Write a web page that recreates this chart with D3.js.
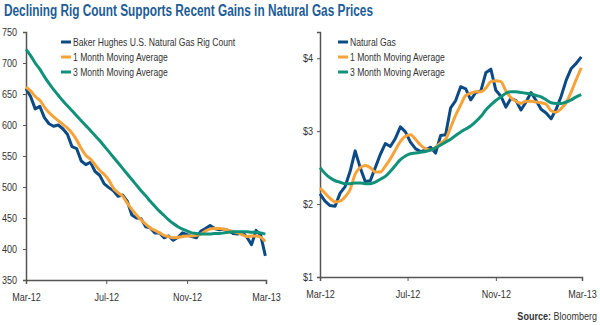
<!DOCTYPE html>
<html>
<head>
<meta charset="utf-8">
<script src="https://cdn.jsdelivr.net/npm/d3@7"></script>
<style>
  body { margin: 0; background: #fff; }
  svg text { font-family: "Liberation Sans", Arial, sans-serif; }
</style>
</head>
<body>
<div id="canvas"></div>
<script>
// weekly rig count, Mar-12 .. Mar-13
const rigCount = [659, 646, 626, 630, 612, 602, 598, 600, 594, 585, 565, 562, 542, 536, 540, 525,
  519, 505, 499, 494, 485, 487, 477, 455, 450, 449, 436, 434, 426, 426, 418, 421, 414, 419, 426,
  423, 420, 418, 429, 433, 438, 433, 431, 432, 430, 425, 424, 427, 419, 407, 430, 422, 389];
const rig1m = [661, 655, 646, 640, 629, 620, 613, 607, 601, 595, 587, 576, 562, 551, 545, 536,
  527, 520, 511, 498, 491, 485, 474, 464, 455, 447, 440, 434, 430, 426, 422, 420, 418, 419, 420,
  421, 421, 422, 424, 429, 432, 433, 433, 432, 430, 428, 426, 423, 420, 421, 421, 419, 412];
const rig3m = [722, 712, 700, 690, 678, 667, 657, 648, 639, 631, 623, 615, 607, 599, 591, 583,
  575, 566, 557, 548, 539, 530, 521, 512, 503, 494, 486, 477, 469, 461, 454, 447, 441, 436, 432,
  429, 426, 425, 424, 424, 424, 425, 425, 426, 427, 428, 428, 428, 428, 427, 427, 426, 424];

// weekly natural gas price ($)
const gasPrice = [2.14, 2.04, 1.98, 1.97, 2.15, 2.24, 2.45, 2.73, 2.50, 2.31, 2.32, 2.50, 2.68,
  2.83, 2.79, 2.90, 3.06, 2.99, 2.85, 2.76, 2.72, 2.74, 2.78, 2.70, 2.94, 2.95, 3.32, 3.42, 3.61,
  3.58, 3.43, 3.53, 3.55, 3.80, 3.85, 3.56, 3.48, 3.33, 3.45, 3.42, 3.29, 3.40, 3.53, 3.42, 3.30,
  3.25, 3.17, 3.30, 3.48, 3.70, 3.86, 3.93, 4.02];
const gas1m = [2.22, 2.15, 2.08, 2.03, 2.04, 2.10, 2.20, 2.41, 2.50, 2.53, 2.50, 2.44, 2.44,
  2.52, 2.62, 2.74, 2.86, 2.93, 2.95, 2.89, 2.81, 2.76, 2.74, 2.78, 2.84, 2.89, 3.05, 3.22, 3.36,
  3.49, 3.52, 3.54, 3.54, 3.59, 3.68, 3.69, 3.68, 3.55, 3.46, 3.41, 3.38, 3.41, 3.41, 3.40, 3.39,
  3.37, 3.28, 3.26, 3.31, 3.39, 3.54, 3.71, 3.87];
const gas3m = [2.50, 2.42, 2.36, 2.32, 2.30, 2.28, 2.28, 2.29, 2.29, 2.28, 2.28, 2.30, 2.34,
  2.38, 2.45, 2.53, 2.61, 2.66, 2.69, 2.70, 2.71, 2.72, 2.74, 2.77, 2.81, 2.85, 2.89, 2.94, 2.99,
  3.03, 3.07, 3.13, 3.20, 3.29, 3.36, 3.42, 3.47, 3.52, 3.54, 3.54, 3.53, 3.52, 3.51, 3.49, 3.47,
  3.43, 3.39, 3.38, 3.38, 3.40, 3.43, 3.47, 3.50];

const rigLegend = ["Baker Hughes U.S. Natural Gas Rig Count", "1 Month Moving Average", "3 Month Moving Average"];
const gasLegend = ["Natural Gas", "1 Month Moving Average", "3 Month Moving Average"];
const rigTicks = [350, 400, 450, 500, 550, 600, 650, 700, 750];
const gasTicks = [1, 2, 3, 4];
const monthTicks = [new Date(2012, 2, 1), new Date(2012, 6, 1), new Date(2012, 10, 1), new Date(2013, 2, 1)];

const colors = ["#0b4a84", "#f8a33a", "#12917a"];
const textColor = "#333";

const start = new Date(2012, 2, 1);
const dates = rigCount.map((d, i) => d3.timeDay.offset(start, 7 * i));
const xDomain = [start, new Date(2013, 2, 1)];

const width = 600;
const height = 325;

const svg = d3.select("#canvas").append("svg")
  .attr("width", width)
  .attr("height", height);

// narrow the regular sans to a condensed look
function squeeze(sel, k = 0.82) {
  sel.each(function () {
    const w = this.getComputedTextLength();
    d3.select(this).attr("textLength", w * k).attr("lengthAdjust", "spacingAndGlyphs");
  });
}

svg.append("text")
  .attr("x", 4)
  .attr("y", 16)
  .attr("fill", "#1d5c96")
  .attr("textLength", 369)
  .attr("lengthAdjust", "spacingAndGlyphs")
  .style("font-size", "16px")
  .style("font-weight", "bold")
  .text("Declining Rig Count Supports Recent Gains in Natural Gas Prices");

function panel(opts) {
  const x = d3.scaleTime().domain(xDomain).range([opts.left, opts.right]);
  const y = d3.scaleLinear().domain(opts.yDomain).range([opts.bottom, opts.top]);

  const g = svg.append("g");

  // axes
  const yAxis = g.append("g")
    .attr("transform", `translate(${opts.left},0)`)
    .call(d3.axisLeft(y).tickValues(opts.ticks).tickSize(3).tickPadding(opts.pad).tickFormat(opts.fmt));
  const xAxis = g.append("g")
    .attr("transform", `translate(0,${opts.bottom})`)
    .call(d3.axisBottom(x).tickValues(monthTicks).tickSize(4).tickPadding(9)
      .tickFormat(d3.timeFormat("%b-%y")));

  [yAxis, xAxis].forEach((a) => {
    a.select(".domain").attr("stroke", "#555").attr("stroke-width", 1.5);
    a.selectAll(".tick line").attr("stroke", "#555");
    a.selectAll("text").attr("fill", textColor).style("font-size", "11px").call(squeeze);
  });

  // series
  opts.series.forEach((s, i) => {
    const line = d3.line()
      .x((d, j) => x(dates[j]))
      .y((d) => y(d))
      .curve(i === 0 ? d3.curveLinear : d3.curveMonotoneX);
    g.append("path")
      .datum(s)
      .attr("fill", "none")
      .attr("stroke", colors[i])
      .attr("stroke-width", 3)
      .attr("stroke-linejoin", "round")
      .attr("d", line);
  });

  // legend
  const lg = g.append("g").attr("transform", `translate(${opts.legendX},42)`);
  opts.legend.forEach((label, i) => {
    lg.append("line")
      .attr("x1", 0).attr("x2", 10)
      .attr("y1", i * 15).attr("y2", i * 15)
      .attr("stroke", colors[i])
      .attr("stroke-width", 3);
    lg.append("text")
      .attr("x", 12)
      .attr("y", i * 15)
      .attr("dy", "0.35em")
      .attr("fill", textColor)
      .style("font-size", "11px")
      .text(label)
      .call(squeeze, 0.78);
  });
}

panel({
  left: 26, right: 266, top: 32, bottom: 280,
  yDomain: [350, 750], ticks: rigTicks, pad: 6, fmt: d3.format("d"),
  series: [rigCount, rig1m, rig3m], legend: rigLegend, legendX: 61
});

panel({
  left: 320, right: 582, top: 32, bottom: 277,
  yDomain: [1, 4.36], ticks: gasTicks, pad: 4, fmt: (d) => "$" + d,
  series: [gasPrice, gas1m, gas3m], legend: gasLegend, legendX: 338
});

// source note, narrowed with a horizontal scale
const src = svg.append("g")
  .attr("transform", "translate(597,320) scale(0.82,1)")
  .append("text")
  .attr("text-anchor", "end")
  .attr("fill", textColor)
  .style("font-size", "11px");
src.append("tspan").style("font-weight", "bold").text("Source: ");
src.append("tspan").text("Bloomberg");
</script>
</body>
</html>
